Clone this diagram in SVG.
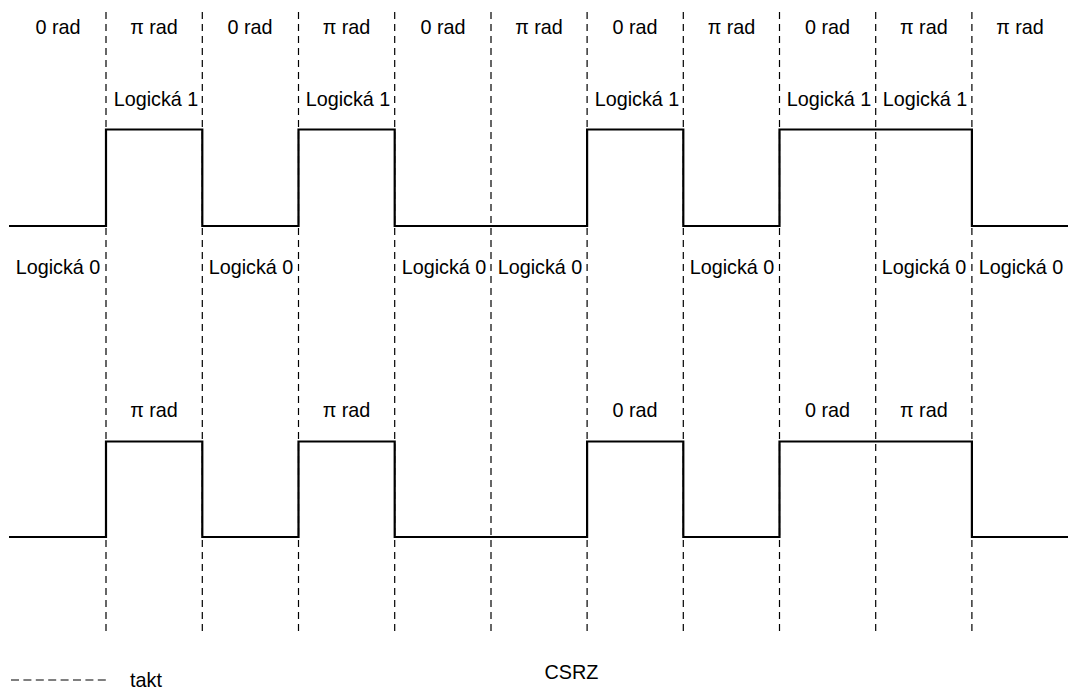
<svg xmlns="http://www.w3.org/2000/svg" width="1072" height="693" viewBox="0 0 1072 693">
<style>
text{font-family:"Liberation Sans",Arial,sans-serif;font-size:19.8px;fill:#000;text-anchor:middle}
.clk{stroke:#000;stroke-width:1.2;stroke-dasharray:7 5;fill:none}
.leg{stroke:#000;stroke-width:1.2;stroke-dasharray:8 4.4;fill:none}
.wave{stroke:#000;stroke-width:2.2;fill:none}
</style>
<rect width="1072" height="693" fill="#fff"/>
<g id="connectors">
<g id="clock">
<line class="clk" x1="106" y1="12" x2="106" y2="634"/>
<line class="clk" x1="202.3" y1="12" x2="202.3" y2="634"/>
<line class="clk" x1="298.5" y1="12" x2="298.5" y2="634"/>
<line class="clk" x1="394.7" y1="12" x2="394.7" y2="634"/>
<line class="clk" x1="491" y1="12" x2="491" y2="634"/>
<line class="clk" x1="587.1" y1="12" x2="587.1" y2="634"/>
<line class="clk" x1="683.3" y1="12" x2="683.3" y2="634"/>
<line class="clk" x1="779.5" y1="12" x2="779.5" y2="634"/>
<line class="clk" x1="875.7" y1="12" x2="875.7" y2="634"/>
<line class="clk" x1="971.9" y1="12" x2="971.9" y2="634"/>
</g>
<path id="wave-top" class="wave" d="M9,226 H106 V129.5 H202.3 V226 H298.5 V129.5 H394.7 V226 H587.1 V129.5 H683.3 V226 H779.5 V129.5 H971.9 V226 H1068"/>
<path id="wave-bottom" class="wave" d="M9,537 H106 V441.5 H202.3 V537 H298.5 V441.5 H394.7 V537 H587.1 V441.5 H683.3 V537 H779.5 V441.5 H971.9 V537 H1068"/>
</g>
<g id="phase-top">
<text x="58" y="34">0 rad</text>
<text x="154" y="34">π rad</text>
<text x="250" y="34">0 rad</text>
<text x="346.5" y="34">π rad</text>
<text x="443" y="34">0 rad</text>
<text x="539" y="34">π rad</text>
<text x="635" y="34">0 rad</text>
<text x="731.5" y="34">π rad</text>
<text x="827.5" y="34">0 rad</text>
<text x="923.8" y="34">π rad</text>
<text x="1020" y="34">π rad</text>
</g>
<g id="logic-1">
<text x="156" y="106">Logická 1</text>
<text x="348" y="106">Logická 1</text>
<text x="637" y="106">Logická 1</text>
<text x="829" y="106">Logická 1</text>
<text x="925" y="106">Logická 1</text>
</g>
<g id="logic-0">
<text x="58" y="274">Logická 0</text>
<text x="251" y="274">Logická 0</text>
<text x="444" y="274">Logická 0</text>
<text x="540" y="274">Logická 0</text>
<text x="732" y="274">Logická 0</text>
<text x="924" y="274">Logická 0</text>
<text x="1021" y="274">Logická 0</text>
</g>
<g id="phase-bottom">
<text x="154" y="417">π rad</text>
<text x="346.5" y="417">π rad</text>
<text x="635" y="417">0 rad</text>
<text x="827.5" y="417">0 rad</text>
<text x="923.8" y="417">π rad</text>
</g>
<g id="legend">
<line class="leg" x1="11" y1="680" x2="107" y2="680"/>
<text x="130" y="687" style="text-anchor:start">takt</text>
</g>
<g id="title">
<text x="571.5" y="679">CSRZ</text>
</g>
</svg>
